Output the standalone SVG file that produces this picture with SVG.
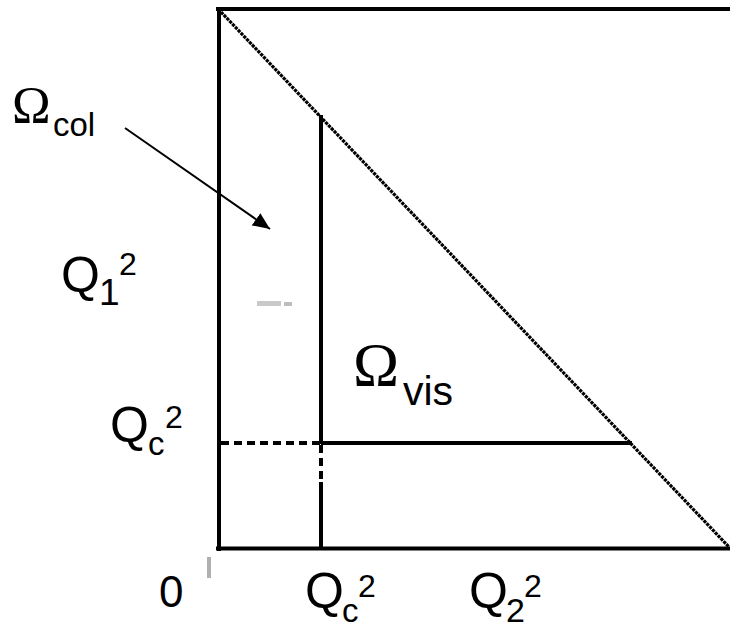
<svg xmlns="http://www.w3.org/2000/svg" width="730" height="628" viewBox="0 0 730 628">
<style>
.ln{stroke:#000;stroke-width:4;fill:none}
.dash{stroke:#000;stroke-width:4;fill:none;stroke-dasharray:8 5}
.diag{stroke:#000;stroke-width:3.2;fill:none;stroke-dasharray:3.2 0.9}
.sans{font-family:"Liberation Sans",Arial,sans-serif;fill:#000}
.serif{font-family:"Liberation Serif","Times New Roman",serif;fill:#000}
</style>
<defs>
<marker id="ah" viewBox="0 0 10 10" refX="10" refY="5" markerWidth="17" markerHeight="15" markerUnits="userSpaceOnUse" orient="auto" preserveAspectRatio="none">
<path d="M0,0 L10,5 L0,10 z" fill="#000"/>
</marker>
</defs>
<rect width="730" height="628" fill="#fff"/>
<g id="connectors">
<path class="ln" d="M216,9 H730"/>
<path class="ln" d="M219,7 V551"/>
<path class="ln" d="M216,548.5 H730"/>
<path class="diag" d="M221,12 L729,547"/>
<path class="ln" d="M321,115 V444"/>
<path class="dash" d="M321,445 V482"/>
<path class="ln" d="M321,482 V549"/>
<path class="dash" d="M221,443 H321"/>
<path class="ln" d="M321,443 H632"/>
<path d="M125,128 L270,229" stroke="#000" stroke-width="2" fill="none" marker-end="url(#ah)"/>
</g>
<g id="marks">
<rect x="257" y="301" width="24" height="5" fill="#c9c9c9"/>
<rect x="284" y="302" width="8" height="4" fill="#bdbdbd"/>
<rect x="207" y="557" width="4" height="21" fill="#b0b0b0"/>
</g>
<g id="label-omega-col">
<text class="serif" x="12" y="123" font-size="52">Ω</text>
<text class="sans" x="53" y="136" font-size="33">col</text>
</g>
<g id="label-q1">
<text class="sans" x="61" y="292" font-size="50">Q</text>
<text class="sans" x="99" y="305" font-size="37">1</text>
<text class="sans" x="119" y="275" font-size="32">2</text>
</g>
<g id="label-qc-left">
<text class="sans" x="110" y="442" font-size="50">Q</text>
<text class="sans" x="148" y="455" font-size="33">c</text>
<text class="sans" x="165" y="428" font-size="32">2</text>
</g>
<g id="label-omega-vis">
<text class="serif" x="353" y="385" font-size="62">Ω</text>
<text class="sans" x="403" y="405" font-size="41">vis</text>
</g>
<g id="label-zero">
<text class="sans" x="159" y="607" font-size="44">0</text>
</g>
<g id="label-qc-bottom">
<text class="sans" x="305" y="608" font-size="50">Q</text>
<text class="sans" x="342" y="622" font-size="33">c</text>
<text class="sans" x="358" y="597" font-size="32">2</text>
</g>
<g id="label-q2">
<text class="sans" x="469" y="608" font-size="50">Q</text>
<text class="sans" x="506" y="622" font-size="34">2</text>
<text class="sans" x="524" y="597" font-size="32">2</text>
</g>
</svg>
